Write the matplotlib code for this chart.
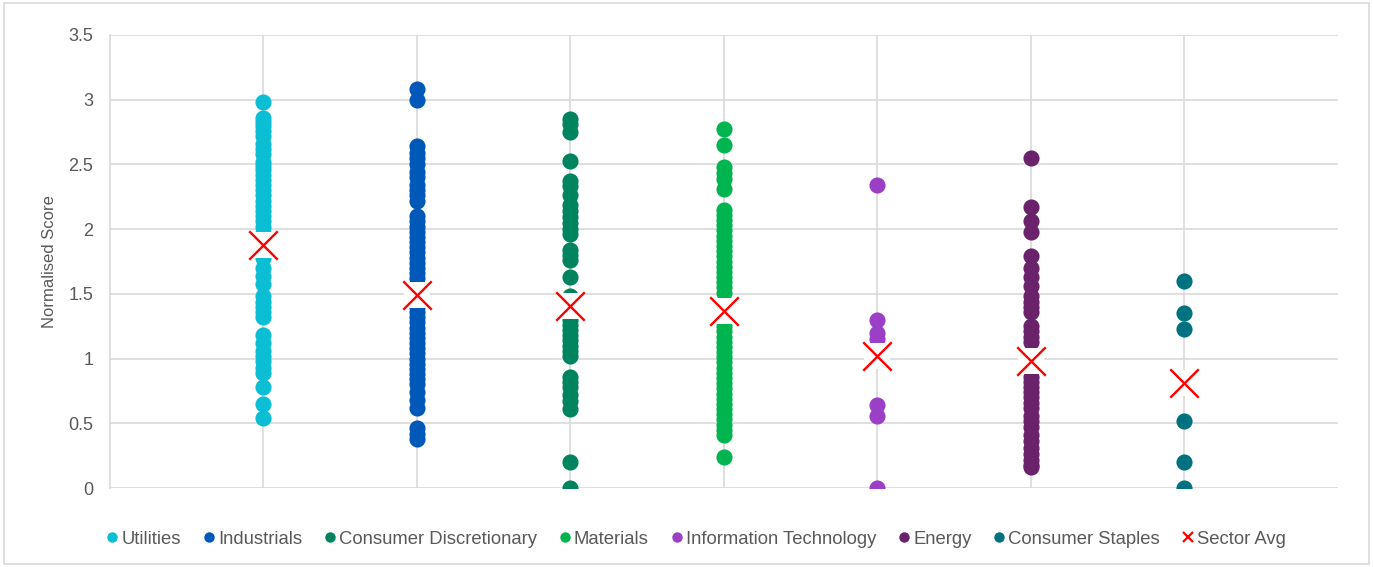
import numpy as np
import matplotlib.pyplot as plt
from matplotlib.patches import Rectangle
from matplotlib.lines import Line2D

plt.rcParams['font.family'] = ['Liberation Sans', 'DejaVu Sans']

sectors = ["Utilities", "Industrials", "Consumer Discretionary", "Materials",
           "Information Technology", "Energy", "Consumer Staples"]
colors = ["#0BBED4", "#0058B9", "#00835F", "#00B54F", "#9B40C6", "#6A226B", "#00717F"]

# scores, one list per sector
utilities = [2.98, 2.86, 2.83, 2.80, 2.76, 2.72, 2.66, 2.62, 2.58, 2.52, 2.49, 2.46, 2.42,
             2.38, 2.34, 2.30, 2.26, 2.22, 2.18, 2.14, 2.10, 2.06, 2.02, 1.97, 1.78, 1.70,
             1.64, 1.58, 1.48, 1.44, 1.40, 1.36, 1.32, 1.18, 1.12, 1.06, 1.02, 0.98, 0.93,
             0.89, 0.78, 0.65, 0.54]
industrials = [3.08, 3.00, 2.64, 2.59, 2.55, 2.50, 2.44, 2.40, 2.34, 2.30, 2.26, 2.22, 2.10,
               2.06, 2.02, 1.98, 1.94, 1.90, 1.86, 1.82, 1.78, 1.74, 1.70, 1.66, 1.62, 1.58,
               1.54, 1.40, 1.36, 1.32, 1.28, 1.24, 1.20, 1.16, 1.12, 1.08, 1.04, 1.00, 0.96,
               0.92, 0.88, 0.84, 0.80, 0.74, 0.68, 0.62, 0.46, 0.42, 0.38]
cons_disc = [2.85, 2.81, 2.75, 2.53, 2.37, 2.33, 2.26, 2.19, 2.14, 2.09, 2.05, 2.00, 1.96,
             1.84, 1.80, 1.76, 1.63, 1.48, 1.30, 1.26, 1.22, 1.18, 1.14, 1.10, 1.06, 1.02,
             0.86, 0.82, 0.78, 0.72, 0.67, 0.61, 0.20, 0.00]
materials = [2.77, 2.65, 2.48, 2.43, 2.39, 2.31, 2.15, 2.11, 2.07, 2.03, 1.99, 1.95, 1.91,
             1.87, 1.83, 1.79, 1.75, 1.71, 1.67, 1.63, 1.59, 1.55, 1.51, 1.25, 1.21, 1.17,
             1.13, 1.09, 1.05, 1.01, 0.97, 0.93, 0.89, 0.85, 0.81, 0.77, 0.73, 0.69, 0.65,
             0.61, 0.57, 0.53, 0.49, 0.45, 0.41, 0.24]
info_tech = [2.34, 1.30, 1.20, 1.15, 0.64, 0.56, 0.00]
energy = [2.55, 2.17, 2.06, 1.98, 1.79, 1.70, 1.63, 1.56, 1.48, 1.44, 1.40, 1.36, 1.25,
          1.21, 1.17, 1.13, 0.86, 0.82, 0.78, 0.74, 0.70, 0.66, 0.62, 0.56, 0.52, 0.47,
          0.41, 0.36, 0.31, 0.26, 0.22, 0.18, 0.16]
cons_staples = [1.60, 1.35, 1.23, 0.52, 0.20, 0.00]
sector_avg = [1.88, 1.49, 1.41, 1.37, 1.02, 0.98, 0.81]

scores = [utilities, industrials, cons_disc, materials, info_tech, energy, cons_staples]

fig = plt.figure(figsize=(13.73, 5.67), dpi=100)
fig.patches.append(Rectangle((0.003, 0.006), 0.994, 0.988, transform=fig.transFigure,
                             fill=False, edgecolor="#D9D9D9", linewidth=1.2))
ax = fig.add_axes([0.0801, 0.1393, 0.8944, 0.799])

for i, (name, vals, c) in enumerate(zip(sectors, scores, colors)):
    ax.scatter(np.full(len(vals), i + 1), vals, s=135, color=c, linewidths=0, zorder=3)

xs = np.arange(1, len(sector_avg) + 1)
ax.scatter(xs, sector_avg, s=330, marker="s", color="white", linewidths=0, zorder=4)
ax.scatter(xs, sector_avg, s=420, marker="x", color="#FF0000", linewidths=1.7, zorder=5)

ax.set_xlim(0, 8)
ax.set_ylim(0, 3.5)
ax.set_xticks(xs)
ax.set_xticklabels([])
ax.set_yticks(np.arange(0, 3.51, 0.5))
ax.set_yticklabels(["0", "0.5", "1", "1.5", "2", "2.5", "3", "3.5"])
ax.tick_params(axis="both", length=0, labelsize=13, labelcolor="#595959", pad=12)
ax.grid(True, color="#D9D9D9", linewidth=1.2, zorder=0)
ax.set_axisbelow(True)
for side in ["top", "right", "bottom"]:
    ax.spines[side].set_visible(False)
ax.spines["left"].set_color("#D9D9D9")
ax.spines["left"].set_linewidth(1.2)
ax.set_ylabel("Normalised Score", fontsize=12, color="#595959", labelpad=8)

handles = [Line2D([], [], linestyle="none", marker="o", markersize=7.5, color=c,
                  markeredgewidth=0) for c in colors]
handles.append(Line2D([], [], linestyle="none", marker="x", markersize=7.5,
                      color="#FF0000", markeredgewidth=1.6))
labels = sectors + ["Sector Avg"]
ax.legend(handles, labels, loc="upper center", bbox_to_anchor=(0.476, -0.058), ncol=8,
          frameon=False, fontsize=13.3, handletextpad=0.0, columnspacing=1.0,
          labelcolor="#595959", handlelength=1.0)

fig.savefig("out.png", dpi=100)
